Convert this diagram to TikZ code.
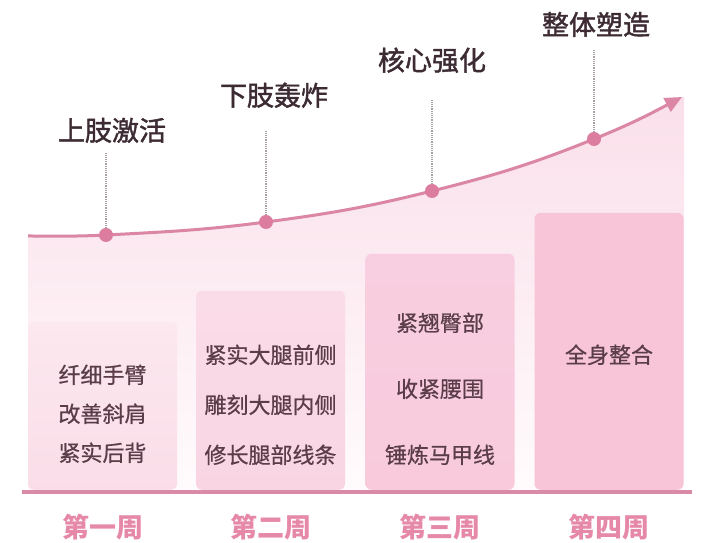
\documentclass[tikz,border=0pt]{standalone}
\usepackage{fontspec}
\usepackage{xcolor}
\usepackage{tikz}
\usetikzlibrary{positioning,arrows.meta}
\newfontfamily\cjk{Noto Sans CJK SC}
\newfontfamily\cjkmid[FakeBold=1.6]{Noto Sans CJK SC}
\newfontfamily\cjkitem[FakeBold=0.6]{Noto Sans CJK SC}
\definecolor{CurvePink}{HTML}{DB86A5}
\definecolor{DotPink}{HTML}{DC7C9E}
\definecolor{BasePink}{HTML}{D98AA6}
\definecolor{WeekPink}{HTML}{E689A8}
\definecolor{TitleText}{HTML}{3D2B33}
\definecolor{ItemText}{HTML}{5A3D49}
\definecolor{GuideGray}{HTML}{A8A0A5}
\definecolor{AreaTop}{HTML}{FADFEA}
\definecolor{AreaBot}{HTML}{FFFBFC}
\definecolor{BarOneTop}{HTML}{FCE8EF}
\definecolor{BarOneBot}{HTML}{FADDE8}
\definecolor{BarTwoTop}{HTML}{FADCE8}
\definecolor{BarTwoBot}{HTML}{F9D5E3}
\definecolor{BarThreeTop}{HTML}{F8CFE0}
\definecolor{BarThreeBot}{HTML}{F8CADC}
\definecolor{BarFour}{HTML}{F7C4D8}

\begin{document}
\begin{tikzpicture}[x=1pt, y=1pt,
    bar/.style={rounded corners=6pt, minimum width=149pt, anchor=south, inner sep=0pt},
    items/.style={text=ItemText, align=center, inner sep=0pt},
    title/.style={text=TitleText, font=\cjkmid\fontsize{27}{27}\selectfont, inner sep=0pt},
    week/.style={text=WeekPink, font=\cjk\bfseries\fontsize{27}{27}\selectfont, inner sep=0pt},
    dot/.style={circle, fill=DotPink, minimum size=14pt, inner sep=0pt},
    guide/.style={densely dotted, draw=GuideGray, line width=1.2pt},
    growth/.style={draw=CurvePink, line width=3pt, -{Triangle[length=17pt,width=15pt]}}
  ]
  \useasboundingbox (0,0) rectangle (704,543);

  % points on the growth curve
  \coordinate (c0) at (28,307);
  \coordinate (p1) at (106,308);
  \coordinate (p2) at (266,321);
  \coordinate (p3) at (432,352);
  \coordinate (p4) at (594,404);
  \coordinate (tip) at (682,446);
  \coordinate (al) at (28,53);
  \coordinate (ar) at (684,53);

  % shaded area under the curve
  \path[top color=AreaTop, bottom color=AreaBot]
    (c0) to[out=0,in=183] (p1) to[out=3,in=187.5] (p2) to[out=7.5,in=194] (p3)
    to[out=14,in=202] (p4) to[out=22,in=208] (tip) -- (ar |- tip) -- (ar) -- (al) -- cycle;

  % week bars
  \node[bar, minimum height=168pt, top color=BarOneTop, bottom color=BarOneBot] (b1) at (102.5,53) {};
  \node[bar, minimum height=199pt, top color=BarTwoTop, bottom color=BarTwoBot] (b2) at (270.5,53) {};
  \node[bar, minimum height=236pt, top color=BarThreeTop, bottom color=BarThreeBot] (b3) at (440,53) {};
  \node[bar, minimum height=277pt, fill=BarFour] (b4) at (609,53) {};

  % bar texts
  \node[items, font=\cjkitem\fontsize{22}{39}\selectfont] (t1) at ([yshift=-8pt]b1.center)
    {纤细手臂\\改善斜肩\\紧实后背};
  \node[items, font=\cjkitem\fontsize{22}{50}\selectfont] (t2) at ([yshift=-14.5pt]b2.center)
    {紧实大腿前侧\\雕刻大腿内侧\\修长腿部线条};
  \node[items, font=\cjkitem\fontsize{22}{66}\selectfont] (t3) at ([yshift=-17pt]b3.center)
    {紧翘臀部\\收紧腰围\\锤炼马甲线};
  \node[items, font=\cjkitem\fontsize{22}{22}\selectfont] (t4) at ([yshift=-3.5pt]b4.center)
    {全身整合};

  % base line
  \coordinate (bl) at (22,51);
  \coordinate (br) at (692,51);
  \draw[draw=BasePink, line width=3.5pt] (bl) -- (br);

  % week labels
  \node[week, below=24pt of b1] (w1) {第一周};
  \node[week, below=24pt of b2] (w2) {第二周};
  \node[week, below=24pt of b3] (w3) {第三周};
  \node[week, below=24pt of b4] (w4) {第四周};

  % growth curve
  \draw[growth] (c0) to[out=0,in=183] (p1) to[out=3,in=187.5] (p2) to[out=7.5,in=194] (p3)
    to[out=14,in=202] (p4) to[out=22,in=208] (tip);

  % stage titles
  \node[title, above=92pt of p1, xshift=6pt] (lab1) {上肢激活};
  \node[title, above=114pt of p2, xshift=8pt] (lab2) {下肢轰炸};
  \node[title, above=118pt of p3] (lab3) {核心强化};
  \node[title, above=102pt of p4, xshift=2pt] (lab4) {整体塑造};

  % guides and dots
  \draw[guide, shorten >=10pt] (p1) -- (p1 |- lab1.south);
  \draw[guide, shorten >=22pt] (p2) -- (p2 |- lab2.south);
  \draw[guide, shorten >=27pt] (p3) -- (p3 |- lab3.south);
  \draw[guide, shorten >=13pt] (p4) -- (p4 |- lab4.south);
  \node[dot] (d1) at (p1) {};
  \node[dot] (d2) at (p2) {};
  \node[dot] (d3) at (p3) {};
  \node[dot] (d4) at (p4) {};
\end{tikzpicture}
\end{document}
